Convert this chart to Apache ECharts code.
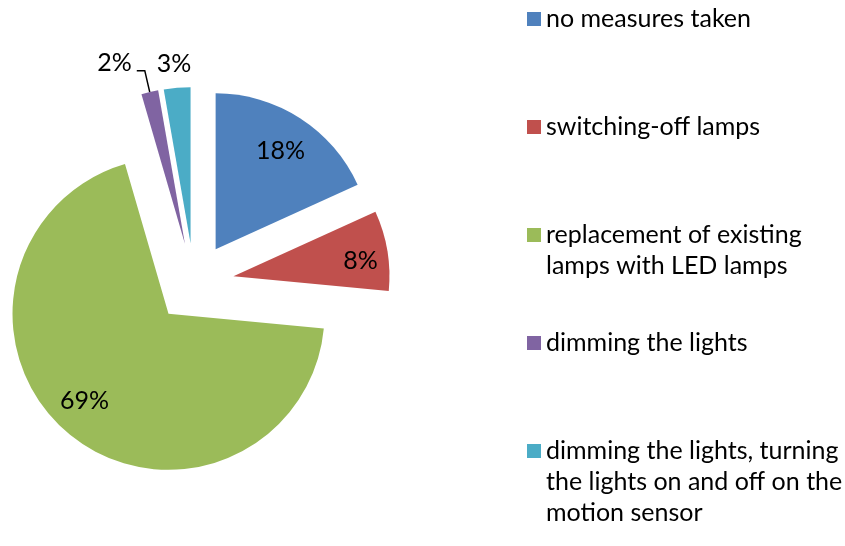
<!DOCTYPE html>
<html>
<head>
<meta charset="utf-8">
<title>Lighting measures</title>
<script src="https://cdn.jsdelivr.net/npm/echarts@6/dist/echarts.min.js"></script>
<style>
    html, body { margin: 0; padding: 0; background: #fff; }
    #main { width: 845px; height: 546px; }
</style>
</head>
<body>
<div id="main"></div>
<script>
    // 数据
    var measureNames = [
        'no measures taken',
        'switching-off lamps',
        'replacement of existing\nlamps with LED lamps',
        'dimming the lights',
        'dimming the lights, turning\nthe lights on and off on the\nmotion sensor'
    ];
    var shares = [18.2, 8.3, 69.0, 1.75, 2.75];   // 百分比（按扇区角度估读）

    // 样式
    var sliceColors = ['#4F81BD', '#C0504D', '#9BBB59', '#8064A2', '#4BACC6'];
    var FONT = 'Lato';
    var FONT_SIZE = 25;
    var LINE_H = 31;
    var PIE_R = 156;
    var legendIconCenters = [19, 127, 235, 343, 451];
    // 内部标签：距扇区顶点的半径、角度（从12点顺时针，度）
    var insideLabelPolar = [[115, 33.3], [125, 83.1], [118, 224]];

    var myChart = echarts.init(document.getElementById('main'));

    var total = shares.reduce(function (a, b) { return a + b; }, 0);

    // 每个图例单独摆放；多行文字前补空行，让图标对齐第一行
    var legends = measureNames.map(function (name, i) {
        var lines = name.split('\n').length;
        var prefix = new Array(lines).join('\n');
        var boxH = (2 * lines - 1) * LINE_H;
        return {
            orient: 'vertical',
            left: 527,
            top: legendIconCenters[i] - boxH / 2,
            padding: 0,
            itemWidth: 14,
            itemHeight: 14,
            icon: 'rect',
            selectedMode: false,
            formatter: function (n) { return prefix + n; },
            textStyle: {
                fontFamily: FONT,
                fontSize: FONT_SIZE,
                lineHeight: LINE_H,
                color: '#000'
            },
            data: [name]
        };
    });

    var pieData = measureNames.map(function (name, i) {
        var item = {
            name: name,
            value: shares[i],
            selected: true,
            itemStyle: { color: sliceColors[i] }
        };
        if (i === 3) {
            item.label = { position: 'outside', formatter: '{d}%\n', lineHeight: 15 };
            item.labelLine = {
                show: true,
                length: 22,
                length2: 8,
                lineStyle: { color: '#000', width: 1.5 }
            };
        } else if (i === 4) {
            item.label = { position: 'outside' };
            item.labelLine = { show: false, length: 8, length2: 0 };
        }
        return item;
    });

    var option = {
        animation: false,
        legend: legends,
        series: [{
            type: 'pie',
            center: [194, 283],
            radius: PIE_R,
            startAngle: 90,
            clockwise: true,
            selectedMode: 'multiple',
            selectedOffset: 40,
            avoidLabelOverlap: false,
            percentPrecision: 0,
            emphasis: { disabled: true },
            label: {
                position: 'inside',
                formatter: '{d}%',
                fontFamily: FONT,
                fontSize: FONT_SIZE,
                color: '#000'
            },
            labelLine: { show: false },
            labelLayout: function (params) {
                var i = params.dataIndex;
                if (i === 4) {
                    return { dx: 20, dy: -16 };
                }
                if (i > 2) {
                    return {};
                }
                var before = 0;
                for (var j = 0; j < i; j++) before += shares[j];
                var mid = (before + shares[i] / 2) / total * Math.PI * 2;
                var r0 = PIE_R / 2;   // ECharts 默认内部标签半径
                var p = insideLabelPolar[i];
                var a = p[1] * Math.PI / 180;
                return {
                    dx: p[0] * Math.sin(a) - r0 * Math.sin(mid),
                    dy: -p[0] * Math.cos(a) + r0 * Math.cos(mid)
                };
            },
            data: pieData
        }]
    };

    myChart.setOption(option);
    window.addEventListener('resize', function () {
        myChart.resize();
    });
</script>
</body>
</html>
